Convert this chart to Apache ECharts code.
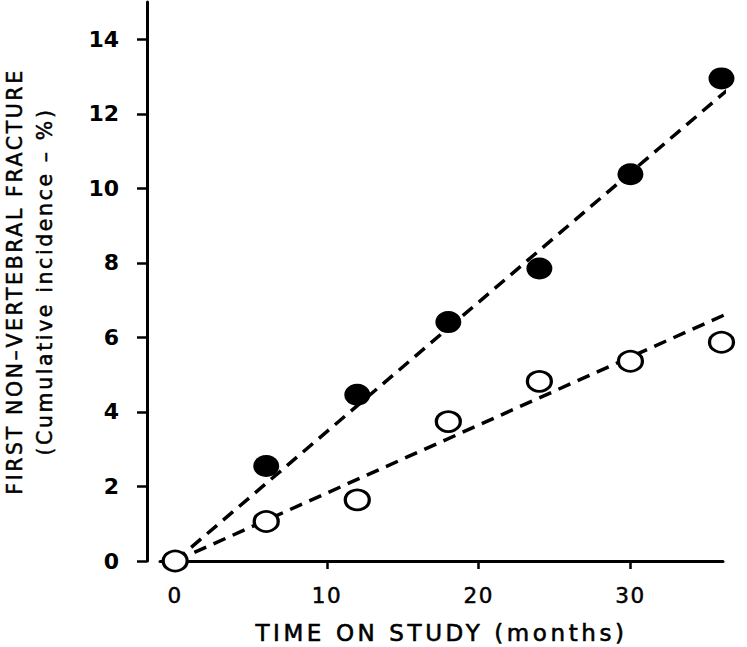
<!DOCTYPE html>
<html>
<head>
<meta charset="utf-8">
<script src="https://cdn.jsdelivr.net/npm/echarts@6/dist/echarts.min.js"></script>
<style>
html,body{margin:0;padding:0;background:#fff}
#c{width:747px;height:647px}
#c svg text[style*="23px"]{letter-spacing:3.6px}
#c svg text[style*="20.5px"]{letter-spacing:2.6px}
#c svg text[style*="21.5px"]{letter-spacing:1.5px}
</style>
</head>
<body>
<div id="c"></div>
<script>
var months = [0, 6, 12, 18, 24, 30, 36];
var treated = [0, 1.06, 1.64, 3.74, 4.82, 5.36, 5.87];      // open circles
var placebo = [0, 2.55, 4.46, 6.41, 7.85, 10.38, 12.95];    // filled circles
var fitPlaceboX = [0, 36.45], fitPlaceboY = [0, 12.66];
var fitTreatedX = [0, 37.6], fitTreatedY = [0, 6.86];
var xTicks = [0, 10, 20, 30];
var yTicks = [0, 2, 4, 6, 8, 10, 12, 14];

function pairs(xs, ys){ return xs.map(function(x,i){return [x, ys[i]];}); }

var chart = echarts.init(document.getElementById('c'), null, {renderer: 'svg'});
var FONT = 'DejaVu Sans';
chart.setOption({
  animation: false,
  grid: {left: 160, top: 2, width: 563, height: 559, containLabel: false, outerBoundsMode: 'none'},
  xAxis: {
    type: 'value', min: -1, max: 36.1,
    axisLine: {show: true, onZero: false, lineStyle: {color: '#000', width: 3}},
    axisTick: {show: true, inside: false, length: 8, customValues: xTicks, lineStyle: {color: '#000', width: 2.5}},
    axisLabel: {customValues: xTicks, color: '#000', fontFamily: FONT, fontSize: 21.5, margin: 23,
                textBorderColor: '#000', textBorderWidth: 0.5},
    splitLine: {show: false},
    name: 'TIME ON STUDY (months)', nameLocation: 'middle', nameGap: 60, nameMoveOverlap: false,
    nameTextStyle: {color: '#000', fontFamily: FONT, fontSize: 23, textBorderColor: '#000', textBorderWidth: 0.6}
  },
  yAxis: {
    type: 'value', min: 0, max: 15, offset: 13,
    axisLine: {show: true, onZero: false, lineStyle: {color: '#000', width: 3}},
    axisTick: {show: true, inside: false, length: 10, customValues: yTicks, lineStyle: {color: '#000', width: 2.5}},
    axisLabel: {customValues: yTicks, color: '#000', fontFamily: FONT, fontSize: 22, fontWeight: 'bold', margin: 28},
    splitLine: {show: false},
    name: 'FIRST NON\u2013VERTEBRAL FRACTURE\n(Cumulative incidence \u2013 %)', nameLocation: 'middle', nameGap: 87, nameRotate: 90,
    nameMoveOverlap: false,
    nameTextStyle: {color: '#000', fontFamily: FONT, fontSize: 20.5, lineHeight: 30, textBorderColor: '#000', textBorderWidth: 0.5}
  },
  series: [
    {type: 'line', data: pairs(fitPlaceboX, fitPlaceboY), showSymbol: false, clip: false, z: 1,
     lineStyle: {color: '#000', width: 3.5, type: [13, 8]}},
    {type: 'line', data: pairs(fitTreatedX, fitTreatedY), showSymbol: false, clip: false, z: 1,
     lineStyle: {color: '#000', width: 3.5, type: [13, 8]}},
    {type: 'scatter', data: pairs(months, placebo).slice(1), symbol: 'circle', symbolSize: [26, 22], clip: false, z: 3,
     itemStyle: {color: '#000', borderColor: '#000', borderWidth: 0, opacity: 1}},
    {type: 'scatter', data: pairs(months, treated), symbol: 'circle', symbolSize: [24, 20], clip: false, z: 4,
     itemStyle: {color: '#fff', borderColor: '#000', borderWidth: 3, opacity: 1}}
  ]
});
</script>
</body>
</html>
